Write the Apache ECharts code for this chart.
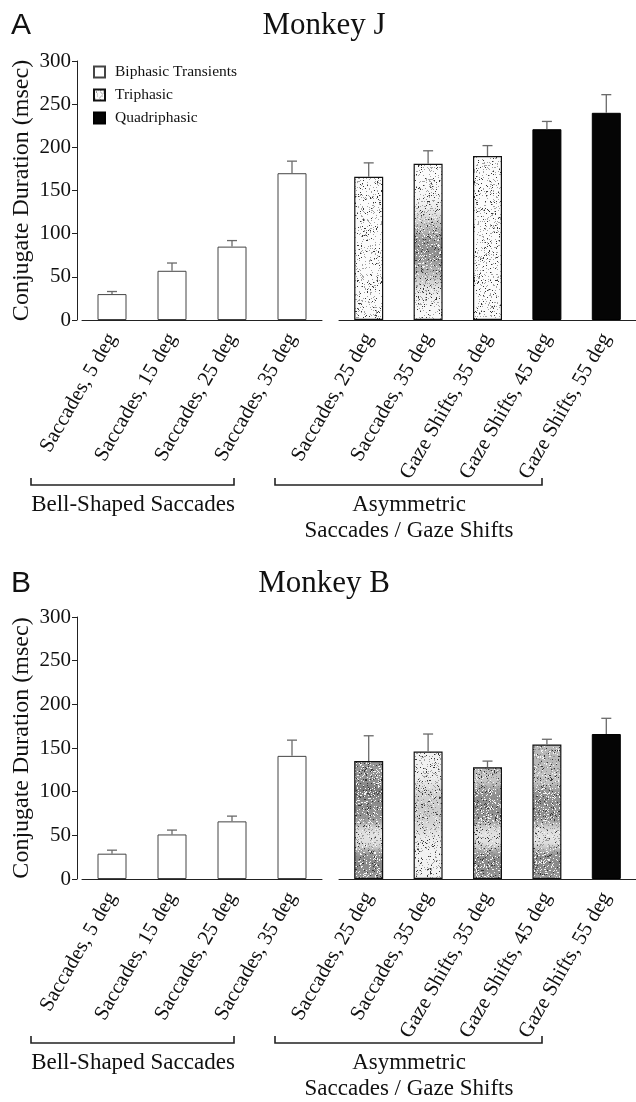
<!DOCTYPE html>
<html>
<head>
<meta charset="utf-8">
<script src="https://cdn.jsdelivr.net/npm/echarts@6/dist/echarts.min.js"></script>
<style>
  html, body { margin: 0; padding: 0; background: #fff; }
  #chart { width: 636px; height: 1102px; }
</style>
</head>
<body>
<div id="chart"></div>
<script>
// Category labels
const bellCats = ['Saccades, 5 deg', 'Saccades, 15 deg', 'Saccades, 25 deg', 'Saccades, 35 deg'];
const asymCats = ['Saccades, 25 deg', 'Saccades, 35 deg', 'Gaze Shifts, 35 deg', 'Gaze Shifts, 45 deg', 'Gaze Shifts, 55 deg'];

// Value axis
const yMin = 0, yMax = 300, yStep = 50;

// Monkey J: means and error (SD) values, msec
const jBellMean = [30, 57, 85, 170];
const jBellErr  = [3, 9, 7, 14];
const jAsymMean = [166, 181, 190, 221, 240];
const jAsymErr  = [16, 15, 12, 9, 21];
const jAsymPhase = ['Triphasic', 'Triphasic', 'Triphasic', 'Quadriphasic', 'Quadriphasic'];

// Monkey B
const bBellMean = [29, 51, 66, 141];
const bBellErr  = [4, 5, 6, 18];
const bAsymMean = [135, 146, 128, 154, 166];
const bAsymErr  = [29, 20, 7, 6, 18];
const bAsymPhase = ['Triphasic', 'Triphasic', 'Triphasic', 'Triphasic', 'Quadriphasic'];

const SERIF = '"Liberation Serif", "Times New Roman", serif';
const SANS = '"Liberation Sans", Arial, sans-serif';
const INK = '#111';
const PAGE_H = 1102;

// Deterministic stipple texture (hash-based noise). The shading level can
// vary with page height, giving the mottled halftone look of the print.
function hash(x, y, k) {
  const s = Math.sin(x * 12.9898 + y * 78.233 + k * 37.719) * 43758.5453;
  return s - Math.floor(s);
}
function smoothBand(y, a, b, edge) {
  const up = 1 / (1 + Math.exp(-(y - a) / edge));
  const dn = 1 / (1 + Math.exp((y - b) / edge));
  return up * dn;
}
function stipple(levelAt, k) {
  const w = 97;
  const c = document.createElement('canvas');
  c.width = w; c.height = PAGE_H;
  const ctx = c.getContext('2d');
  const img = ctx.createImageData(w, PAGE_H);
  for (let y = 0; y < PAGE_H; y++) {
    const g = Math.max(0, Math.min(1, levelAt(y)));
    const base = 255 - 130 * g;
    const pDark = 0.04 + 0.02 * g;
    const pGray = 0.10;
    const pWhite = 0.16 * g;
    for (let x = 0; x < w; x++) {
      const r = hash(x, y, k);
      let v = base;
      if (r < pDark) v = 55;
      else if (r < pDark + pGray) v = 165 - 40 * g;
      else if (r < pDark + pGray + pWhite) v = 245;
      const i = (y * w + x) * 4;
      img.data[i] = img.data[i + 1] = img.data[i + 2] = v;
      img.data[i + 3] = 255;
    }
  }
  ctx.putImageData(img, 0, 0);
  return { image: c, repeat: 'repeat' };
}

// Textures: plain light stipple, a light one with a darker blotch, and the
// banded, darker stipple of the lower panel
const triLight = stipple(() => 0.03, 1);
const triBlot = stipple(y => 0.03 + 0.8 * Math.exp(-Math.pow((y - 250) / 32, 2)), 2);
const triBand = stipple(y => 0.2 + 0.65 * smoothBand(y, 786, 824, 3) + 0.7 * smoothBand(y, 849, 880, 3) + 0.35 * smoothBand(y, 700, 780, 6), 3);
const triBandHeavy = stipple(y => 0.2 + 0.65 * smoothBand(y, 786, 824, 3) + 0.7 * smoothBand(y, 849, 880, 3) + 0.6 * smoothBand(y, 740, 790, 4), 4);
const triSoft = stipple(y => 0.1 + 0.3 * smoothBand(y, 786, 830, 6), 5);

const jTriTextures = [triLight, triBlot, triLight, triLight, triLight];
const bTriTextures = [triBandHeavy, triSoft, triBand, triBand, triBand];

const biStyle = { color: '#fff', borderColor: '#444', borderWidth: 1 };
const quadStyle = { color: '#050505', borderColor: '#000', borderWidth: 1 };

function errorSeries(name, axisIdx, mean, err) {
  return {
    type: 'custom',
    name: name,
    xAxisIndex: axisIdx,
    yAxisIndex: axisIdx,
    z: 5,
    silent: true,
    data: mean.map((m, i) => [i, m, err[i]]),
    encode: { x: 0, y: 1 },
    renderItem: function (params, api) {
      const xi = api.value(0), m = api.value(1), e = api.value(2);
      const p0 = api.coord([xi, m]);
      const p1 = api.coord([xi, m + e]);
      const st = { stroke: '#6a6a6a', lineWidth: 1.3 };
      return {
        type: 'group',
        children: [
          { type: 'line', shape: { x1: p0[0], y1: p0[1], x2: p1[0], y2: p1[1] }, style: st },
          { type: 'line', shape: { x1: p1[0] - 5, y1: p1[1], x2: p1[0] + 5, y2: p1[1] }, style: st }
        ]
      };
    }
  };
}

function panelSeries(gL, gR, bellMean, bellErr, asymMean, asymErr, phase, textures) {
  return [
    {
      type: 'bar', name: 'Biphasic Transients', xAxisIndex: gL, yAxisIndex: gL,
      data: bellMean, barWidth: 29, itemStyle: biStyle
    },
    errorSeries('err' + gL, gL, bellMean, bellErr),
    {
      type: 'bar', name: 'Triphasic', xAxisIndex: gR, yAxisIndex: gR,
      data: asymMean.map((v, i) => phase[i] === 'Triphasic'
        ? { value: v, itemStyle: { color: textures[i] } } : '-'),
      barWidth: 29, barGap: '-100%',
      itemStyle: { color: triLight, borderColor: '#111', borderWidth: 1.2 }
    },
    {
      type: 'bar', name: 'Quadriphasic', xAxisIndex: gR, yAxisIndex: gR,
      data: asymMean.map((v, i) => phase[i] === 'Quadriphasic' ? v : '-'),
      barWidth: 29, barGap: '-100%', itemStyle: quadStyle
    },
    errorSeries('err' + gR, gR, asymMean, asymErr)
  ];
}

function xAxis(gridIndex, cats) {
  return {
    type: 'category', gridIndex: gridIndex, data: cats,
    axisLine: { lineStyle: { color: '#222', width: 1 } },
    axisTick: { show: false },
    axisLabel: {
      interval: 0, rotate: 60, margin: 15,
      fontFamily: SERIF, fontSize: 21, color: INK
    }
  };
}
function yAxis(gridIndex, visible) {
  return {
    type: 'value', gridIndex: gridIndex, min: yMin, max: yMax, interval: yStep,
    show: visible, offset: 5,
    name: visible ? 'Conjugate Duration (msec)' : '',
    nameLocation: 'middle', nameGap: 43,
    nameTextStyle: { fontFamily: SERIF, fontSize: 24, color: INK },
    splitLine: { show: false },
    axisLine: { show: true, lineStyle: { color: '#222', width: 1 } },
    axisTick: { show: true, length: 5, lineStyle: { color: '#222' } },
    axisLabel: { margin: 6, fontFamily: SERIF, fontSize: 21, color: INK }
  };
}

function text(str, x, y, size, family, align) {
  return {
    type: 'text', x: x, y: y, silent: true,
    style: {
      text: str, fontSize: size, fontFamily: family, fill: INK,
      align: align || 'center', verticalAlign: 'middle'
    }
  };
}
function bracket(x1, x2, y) {
  return {
    type: 'polyline', silent: true,
    shape: { points: [[x1, y - 7], [x1, y], [x2, y], [x2, y - 7]] },
    style: { stroke: '#222', lineWidth: 1.6, fill: null }
  };
}

function panelGraphics(dy, letter, title) {
  return [
    text(letter, 11, 26 + dy, 30, SANS, 'left'),
    text(title, 324, 26 + dy, 31, SERIF),
    bracket(31, 234, 485 + dy),
    bracket(275, 542, 485 + dy),
    text('Bell-Shaped Saccades', 133, 505 + dy, 23, SERIF),
    text('Asymmetric', 409, 505 + dy, 23, SERIF),
    text('Saccades / Gaze Shifts', 409, 531 + dy, 23, SERIF)
  ];
}

const chart = echarts.init(document.getElementById('chart'), null, { renderer: 'canvas' });
chart.setOption({
  animation: false,
  backgroundColor: '#fff',
  grid: [
    { left: 82, top: 61, width: 240, height: 259 },
    { left: 339, top: 61, width: 299, height: 259 },
    { left: 82, top: 617, width: 240, height: 262 },
    { left: 339, top: 617, width: 299, height: 262 }
  ],
  xAxis: [xAxis(0, bellCats), xAxis(1, asymCats), xAxis(2, bellCats), xAxis(3, asymCats)],
  yAxis: [yAxis(0, true), yAxis(1, false), yAxis(2, true), yAxis(3, false)],
  legend: {
    orient: 'vertical', left: 93, top: 64, padding: 0,
    itemWidth: 11, itemHeight: 11, itemGap: 7,
    data: [
      { name: 'Biphasic Transients', icon: 'rect' },
      { name: 'Triphasic', icon: 'rect' },
      { name: 'Quadriphasic', icon: 'rect' }
    ],
    selectedMode: false,
    textStyle: { fontFamily: SERIF, fontSize: 15.5, color: INK, lineHeight: 16, padding: [0, 0, 0, 5] }
  },
  series: [].concat(
    panelSeries(0, 1, jBellMean, jBellErr, jAsymMean, jAsymErr, jAsymPhase, jTriTextures),
    panelSeries(2, 3, bBellMean, bBellErr, bAsymMean, bAsymErr, bAsymPhase, bTriTextures)
  ),
  graphic: [].concat(
    panelGraphics(0, 'A', 'Monkey J'),
    panelGraphics(558, 'B', 'Monkey B')
  )
});
</script>
</body>
</html>
